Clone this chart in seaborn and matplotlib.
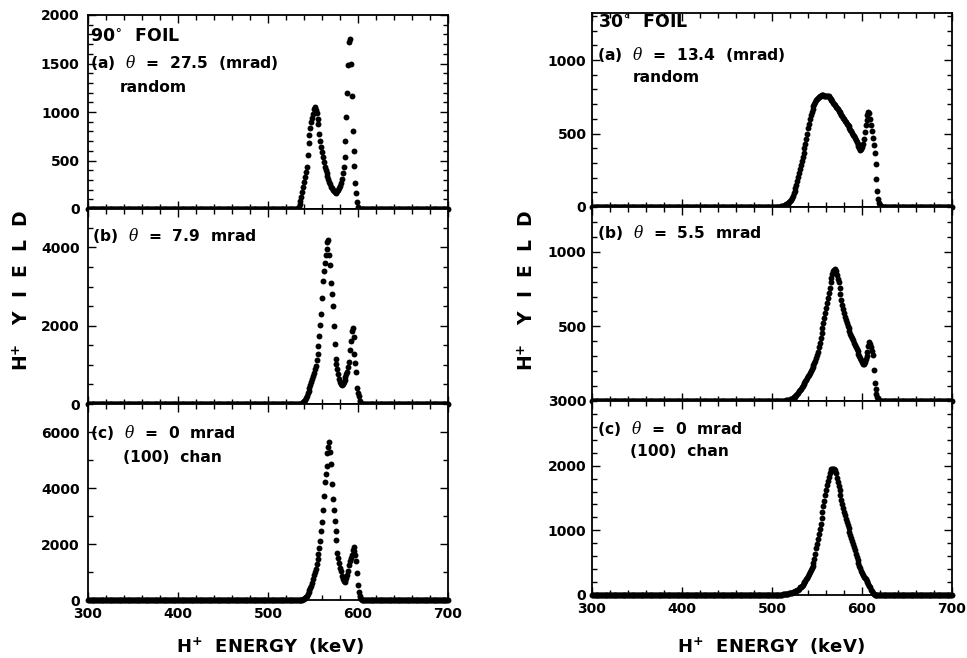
import numpy as np
import matplotlib
matplotlib.use("Agg")
import matplotlib.pyplot as plt
import seaborn as sns
from matplotlib.ticker import MultipleLocator

# channel energies (keV), one channel per keV
energy = np.arange(300, 701, 1)

# yields, listed from the first channel of each peak region on
foil90_a_start = 532
foil90_a = [0, 10, 25, 50, 85, 120, 175, 230, 280, 333, 385, 436, 557, 680,
            760, 830, 900, 940, 975, 1030, 1050, 1020, 985, 930, 880, 770, 700,
            642, 590, 539, 488, 436, 405, 370, 340, 310, 280, 255, 230, 215,
            200, 185, 172, 170, 175, 185, 200, 215, 235, 270, 310, 370, 430,
            540, 700, 950, 1200, 1480, 1720, 1750, 1500, 1170, 800, 600, 440,
            270, 170, 75, 20, 0]

foil90_b_start = 536
foil90_b = [0, 10, 25, 45, 70, 100, 150, 205, 270, 340, 410, 480, 550, 630,
            720, 800, 885, 975, 1120, 1280, 1490, 1740, 2025, 2300, 2700, 3130,
            3400, 3600, 3800, 3950, 4130, 4200, 3800, 3560, 3080, 2800, 2510,
            2000, 1540, 1150, 1020, 900, 760, 640, 560, 510, 490, 520, 560, 620,
            690, 760, 820, 950, 1080, 1380, 1620, 1870, 1950, 1700, 1280, 1050,
            820, 420, 280, 200, 80, 0]

foil90_c_start = 536
foil90_c = [0, 5, 15, 30, 50, 80, 115, 160, 210, 270, 340, 420, 510, 620, 760,
            880, 1000, 1120, 1300, 1480, 1650, 1850, 2090, 2480, 2800, 3200,
            3700, 4200, 4500, 4800, 5260, 5450, 5650, 5300, 4870, 4150, 3600,
            3200, 2810, 2450, 2160, 1680, 1500, 1320, 1150, 1020, 850, 740, 680,
            660, 700, 780, 900, 1050, 1260, 1380, 1500, 1620, 1780, 1880, 1750,
            1600, 1400, 950, 550, 300, 150, 40, 0]

foil30_a_start = 506
foil30_a = [0, 1, 2, 3, 4, 5, 7, 9, 11, 14, 18, 22, 27, 33, 40, 50, 62, 76,
            92, 110, 130, 152, 176, 202, 230, 258, 286, 314, 342, 370, 400,
            432, 466, 500, 535, 568, 598, 625, 648, 668, 686, 701, 714, 725,
            734, 742, 748, 753, 757, 760, 762, 760, 756, 754, 756, 758, 757,
            752, 745, 737, 728, 719, 710, 701, 692, 683, 674, 665, 656, 647,
            638, 628, 618, 608, 598, 588, 578, 568, 558, 548, 537, 526, 515,
            504, 493, 481, 469, 457, 445, 432, 418, 402, 388, 392, 410, 432,
            465, 510, 555, 595, 625, 645, 640, 600, 560, 520, 470, 420, 370,
            290, 190, 110, 55, 25, 12, 6, 3, 1, 0]

foil30_b_start = 512
foil30_b = [0, 1, 2, 3, 4, 5, 6, 8, 10, 13, 16, 20, 24, 29, 34, 40, 47, 55,
            64, 73, 83, 93, 103, 113, 123, 133, 143, 154, 165, 176, 187, 200,
            213, 227, 241, 255, 270, 286, 305, 330, 360, 390, 420, 453, 487,
            520, 553, 587, 620, 655, 690, 725, 760, 795, 825, 850, 868, 880,
            884, 870, 845, 820, 795, 760, 715, 675, 645, 615, 590, 565, 545,
            525, 505, 487, 470, 452, 437, 422, 407, 392, 377, 362, 347, 332,
            318, 304, 290, 276, 262, 248, 250, 262, 280, 300, 330, 370, 398,
            385, 360, 335, 305, 210, 120, 80, 50, 28, 12, 5, 2, 0]

foil30_c_start = 504
foil30_c = [0, 1, 2, 3, 4, 5, 6, 7, 8, 10, 12, 14, 17, 20, 23, 26, 30, 34,
            38, 43, 48, 54, 61, 68, 76, 85, 100, 116, 130, 145, 160, 178, 196,
            216, 240, 265, 292, 320, 350, 385, 420, 455, 490, 560, 640, 720,
            790, 860, 940, 1016, 1100, 1190, 1280, 1370, 1460, 1545, 1620,
            1700, 1770, 1830, 1880, 1920, 1945, 1955, 1955, 1948, 1930, 1880,
            1810, 1750, 1690, 1620, 1550, 1470, 1410, 1350, 1290, 1230, 1175,
            1122, 1075, 1030, 980, 930, 880, 830, 785, 740, 690, 640, 592, 545,
            500, 455, 410, 370, 340, 310, 285, 260, 240, 222, 200, 175, 145,
            116, 85, 58, 35, 15, 5, 0]

x_ticks = [300, 400, 500, 600, 700]

panel_labels = [
    ["(a)  $\\theta$  =  27.5  (mrad)", "(b)  $\\theta$  =  7.9  mrad", "(c)  $\\theta$  =  0  mrad"],
    ["(a)  $\\theta$  =  13.4  (mrad)", "(b)  $\\theta$  =  5.5  mrad", "(c)  $\\theta$  =  0  mrad"],
]
foil_titles = ["90$^{\\circ}$  FOIL", "30$^{\\circ}$  FOIL"]


def full_spectrum(start, values):
    y = np.zeros(len(energy))
    i = int(np.searchsorted(energy, start))
    y[i:i + len(values)] = values
    return y


sns.set_style("ticks")
plt.rcParams["font.family"] = ["DejaVu Sans"]
plt.rcParams["font.weight"] = "bold"
plt.rcParams["axes.labelweight"] = "bold"
for key in ("text.color", "axes.labelcolor", "xtick.color", "ytick.color", "axes.edgecolor"):
    plt.rcParams[key] = "black"
plt.rcParams["mathtext.fontset"] = "custom"
plt.rcParams["mathtext.rm"] = "DejaVu Sans:weight=bold"
plt.rcParams["mathtext.bf"] = "DejaVu Sans:weight=bold"
plt.rcParams["mathtext.it"] = "DejaVu Serif:style=italic:weight=normal"

W, H = 967, 658
fig = plt.figure(figsize=(W / 100, H / 100), dpi=100)


def px_axes(x0, top, x1, bottom):
    return fig.add_axes([x0 / W, 1 - bottom / H, (x1 - x0) / W, (bottom - top) / H])


def px_text(x, y, s, size=11.2, **kw):
    fig.text(x / W, 1 - y / H, s, va="center", ha="left", fontsize=size,
             fontweight="bold", **kw)


# pixel boxes of the six panels
boxes = [
    [(88, 15, 448, 209), (88, 209, 448, 404), (88, 404, 448, 600)],
    [(592, 13, 952, 207), (592, 207, 952, 401), (592, 401, 952, 595)],
]
series = [
    [(foil90_a_start, foil90_a), (foil90_b_start, foil90_b), (foil90_c_start, foil90_c)],
    [(foil30_a_start, foil30_a), (foil30_b_start, foil30_b), (foil30_c_start, foil30_c)],
]
ylims = [[2000, 4980, 7000], [1320, 1300, 3000]]
yticks = [
    [[0, 500, 1000, 1500, 2000], [0, 2000, 4000], [0, 2000, 4000, 6000]],
    [[0, 500, 1000], [0, 500, 1000], [0, 1000, 2000]],
]
ytick_labels = [
    [None, None, None],
    [None, ["3000", "500", "1000"], None],
]
yminor = [[100, 500, 1000], [100, 100, 200]]
ypad = [6, 4]

for col in range(2):
    for row in range(3):
        ax = px_axes(*boxes[col][row])
        start, vals = series[col][row]
        sns.scatterplot(x=energy, y=full_spectrum(start, vals), ax=ax,
                        color="black", s=18, linewidth=0, clip_on=False,
                        zorder=3, legend=False)
        ax.set_xlim(300, 700)
        ax.set_ylim(0, ylims[col][row])
        ax.set_xticks(x_ticks)
        ax.xaxis.set_minor_locator(MultipleLocator(20))
        ax.set_yticks(yticks[col][row])
        if ytick_labels[col][row] is not None:
            ax.set_yticklabels(ytick_labels[col][row])
        ax.yaxis.set_minor_locator(MultipleLocator(yminor[col][row]))
        ax.tick_params(which="both", direction="in", top=True, right=True,
                       width=1.0, labelsize=10)
        ax.tick_params(which="major", length=6)
        ax.tick_params(which="minor", length=3.5)
        ax.tick_params(axis="x", pad=5)
        ax.tick_params(axis="y", pad=ypad[col])
        for sp in ax.spines.values():
            sp.set_linewidth(1.3)
        ax.set_xlabel("")
        ax.set_ylabel("")
        if row < 2:
            ax.tick_params(labelbottom=False)
        for lab in ax.get_xticklabels() + ax.get_yticklabels():
            lab.set_fontweight("bold")

# annotations
px_text(90, 36, foil_titles[0], size=12.5)
px_text(90, 63, panel_labels[0][0])
px_text(120, 87, "random")
px_text(92, 235, panel_labels[0][1])
px_text(90, 432, panel_labels[0][2])
px_text(123, 457, "(100)  chan")

px_text(598, 22, foil_titles[1], size=12.5)
px_text(597, 55, panel_labels[1][0])
px_text(633, 78, "random")
px_text(597, 233, panel_labels[1][1])
px_text(597, 429, panel_labels[1][2])
px_text(630, 452, "(100)  chan")

# axis titles
for x in (22, 527):
    fig.text(x / W, 1 - 290 / H, "H$^{+}$   Y  I  E  L  D", rotation=90,
             ha="center", va="center", fontsize=13.5, fontweight="bold")
for x in (270, 771):
    fig.text(x / W, 1 - 646 / H, "H$^{+}$  ENERGY  (keV)", ha="center",
             va="center", fontsize=13, fontweight="bold")

fig.savefig("out.png", dpi=100)
